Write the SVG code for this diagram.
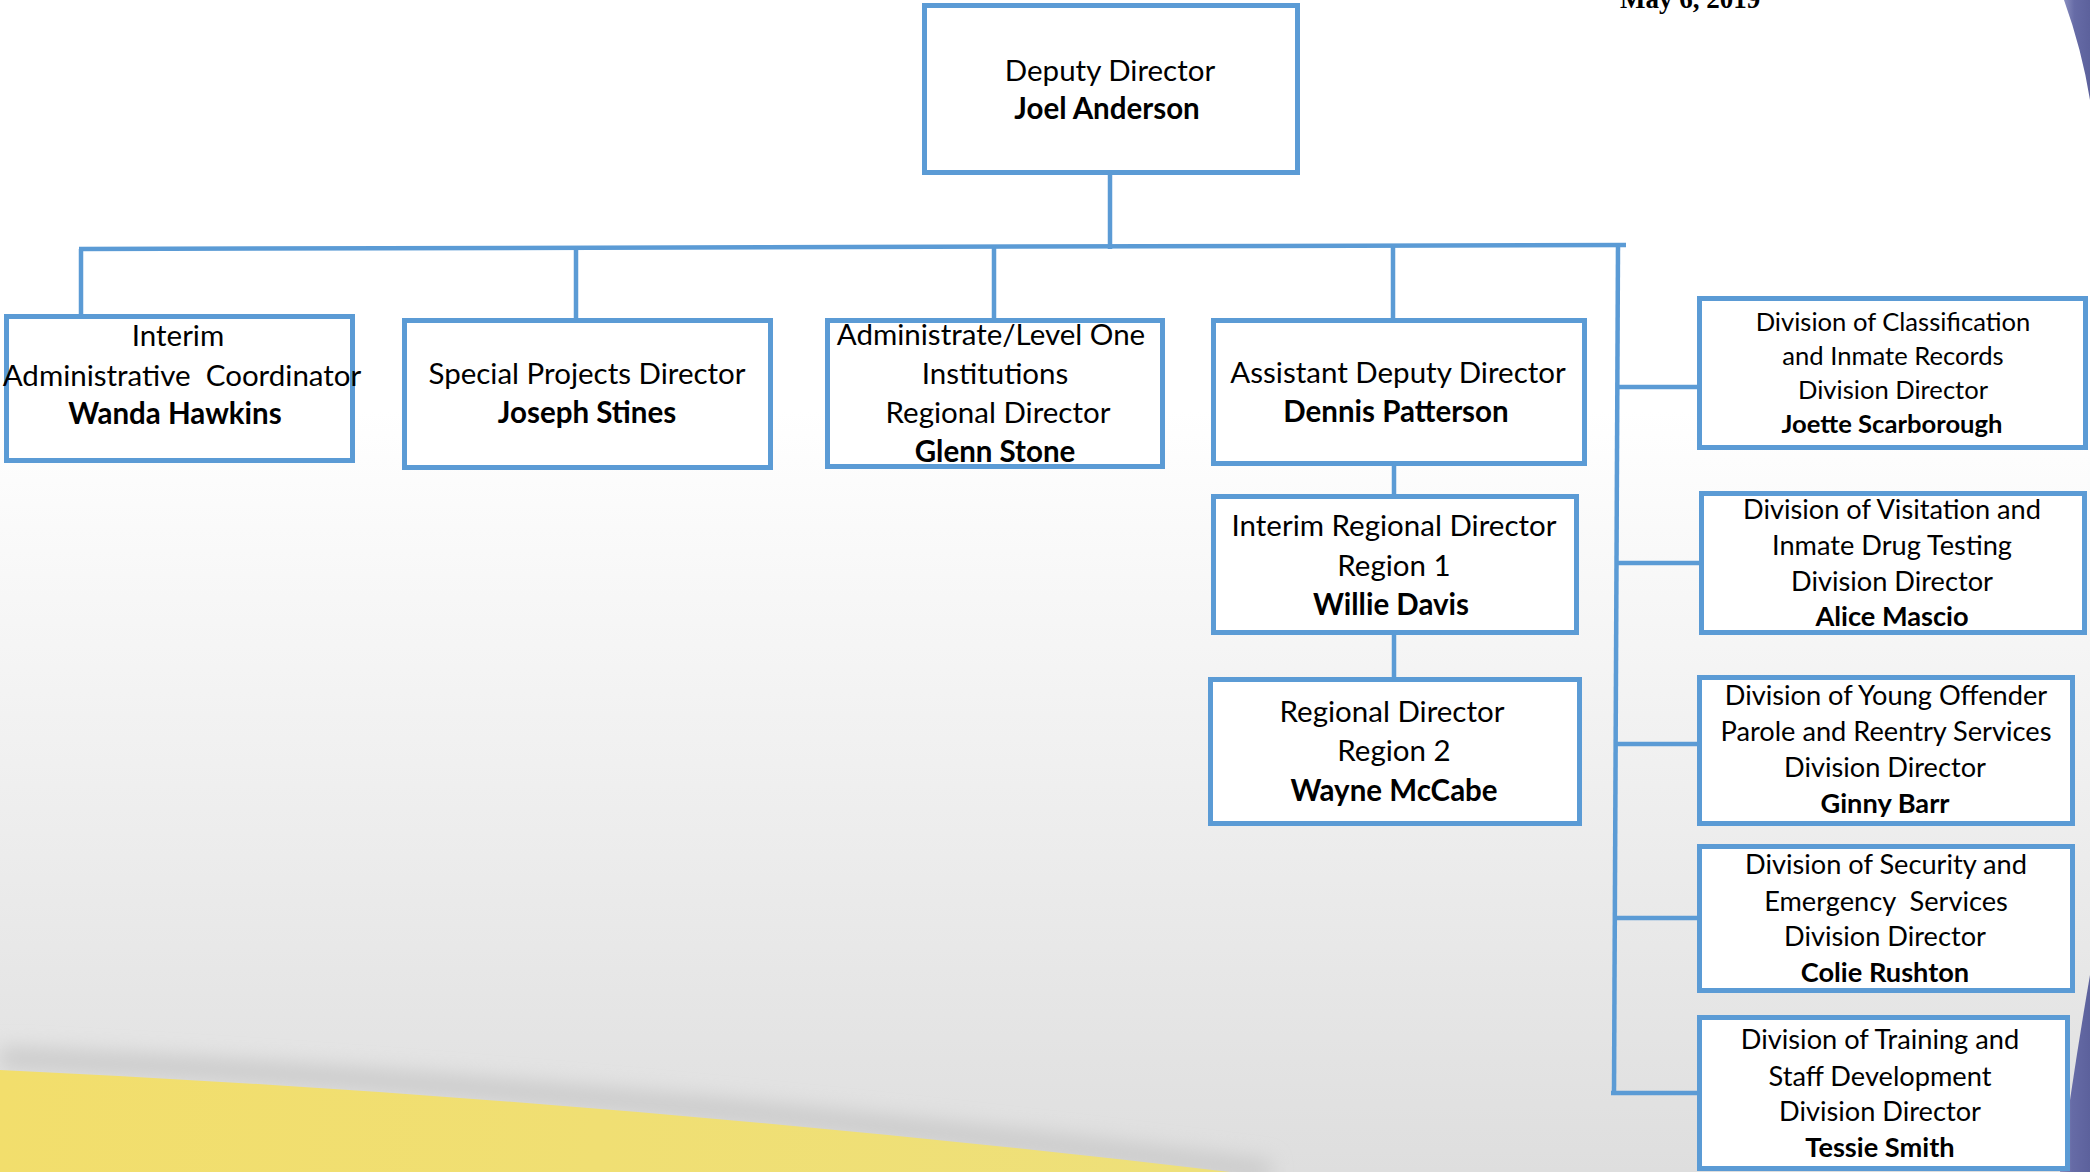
<svg xmlns="http://www.w3.org/2000/svg" width="2090" height="1172" viewBox="0 0 2090 1172">
<defs>
<linearGradient id="bg" x1="0" y1="0" x2="0" y2="1172" gradientUnits="userSpaceOnUse">
<stop offset="0" stop-color="#ffffff"/>
<stop offset="0.35" stop-color="#ffffff"/>
<stop offset="0.75" stop-color="#ebebeb"/>
<stop offset="1" stop-color="#dedede"/>
</linearGradient>
<linearGradient id="yel" x1="0" y1="1080" x2="1200" y2="1172" gradientUnits="userSpaceOnUse">
<stop offset="0" stop-color="#f2de6c"/>
<stop offset="1" stop-color="#eee07a"/>
</linearGradient>
<linearGradient id="pur" x1="0" y1="0" x2="1" y2="0">
<stop offset="0" stop-color="#8a8fc0"/>
<stop offset="0.4" stop-color="#666ba6"/>
<stop offset="1" stop-color="#5c619c"/>
</linearGradient>
<filter id="blur" x="-20%" y="-50%" width="140%" height="200%"><feGaussianBlur stdDeviation="10"/></filter>
<filter id="blur2" x="-20%" y="-20%" width="140%" height="140%"><feGaussianBlur stdDeviation="6"/></filter>
</defs>
<style>
.box{fill:#ffffff;stroke:#5b9bd5;stroke-width:5}
.con{fill:none;stroke:#5b9bd5;stroke-width:4.5}
text{font-family:Lato,"Open Sans","Liberation Sans",sans-serif;fill:#000000;text-anchor:middle}
.m{font-size:29.5px}
.r{font-size:27.2px}
.s{font-size:25.6px}
.b{font-weight:bold}
.date{font-family:"Liberation Serif","Times New Roman",serif;font-size:27px;font-weight:bold;text-anchor:start}
</style>
<rect x="0" y="0" width="2090" height="1172" fill="url(#bg)"/>
<path d="M0,1058 Q600,1086 1270,1172" fill="none" stroke="#cbcbcb" stroke-width="22" filter="url(#blur)"/>
<path d="M0,1070 Q600,1098 1230,1172 L0,1172 Z" fill="url(#yel)"/>
<path d="M2056,0 Q2080,50 2090,118 L2090,0 Z" fill="#ffffff" filter="url(#blur2)"/>
<path d="M2064,0 Q2082,50 2090,100 L2090,0 Z" fill="url(#pur)"/>
<path d="M2090,975 Q2072,1080 2060,1172 L2090,1172 Z" fill="url(#pur)"/>
<text class="date" x="1620" y="8">May 6, 2019</text>

<g id="connectors">
<path class="con" d="M1110,175 V249"/>
<path class="con" d="M79,249 L1626,245"/>
<path class="con" d="M81,249 V315"/>
<path class="con" d="M576,249 V319"/>
<path class="con" d="M994,248 V319"/>
<path class="con" d="M1393,246 V319"/>
<path class="con" d="M1394,465 V495"/>
<path class="con" d="M1394,634 V678"/>
<path class="con" d="M1618,245 L1614,1093"/>
<path class="con" d="M1617,387 H1698"/>
<path class="con" d="M1616,563 H1700"/>
<path class="con" d="M1615,744 H1698"/>
<path class="con" d="M1615,918 H1698"/>
<path class="con" d="M1611,1093 H1698"/>
</g>

<g id="deputy-director">
<rect class="box" x="924.5" y="5.5" width="373" height="167"/>
<text class="m" x="1110" y="81">Deputy Director</text>
<text class="m b" x="1107" y="119">Joel Anderson</text>
</g>
<g id="interim-admin-coordinator">
<rect class="box" x="6.5" y="316.5" width="346" height="144"/>
<text class="m" x="178" y="346">Interim</text>
<text class="m" x="182" y="386" xml:space="preserve">Administrative  Coordinator</text>
<text class="m b" x="175" y="424">Wanda Hawkins</text>
</g>
<g id="special-projects-director">
<rect class="box" x="404.5" y="320.5" width="366" height="147"/>
<text class="m" x="587" y="384">Special Projects Director</text>
<text class="m b" x="587" y="423">Joseph Stines</text>
</g>
<g id="administrate-level-one">
<rect class="box" x="827.5" y="320.5" width="335" height="146"/>
<text class="m" x="991" y="345">Administrate/Level One</text>
<text class="m" x="995" y="384">Institutions</text>
<text class="m" x="998" y="423">Regional Director</text>
<text class="m b" x="995" y="462">Glenn Stone</text>
</g>
<g id="assistant-deputy-director">
<rect class="box" x="1213.5" y="320.5" width="371" height="143"/>
<text class="m" x="1398" y="383">Assistant Deputy Director</text>
<text class="m b" x="1396" y="422">Dennis Patterson</text>
</g>
<g id="interim-regional-director">
<rect class="box" x="1213.5" y="496.5" width="363" height="136"/>
<text class="m" x="1394" y="536">Interim Regional Director</text>
<text class="m" x="1394" y="576">Region 1</text>
<text class="m b" x="1391" y="615">Willie Davis</text>
</g>
<g id="regional-director-2">
<rect class="box" x="1210.5" y="679.5" width="369" height="144"/>
<text class="m" x="1392" y="722">Regional Director</text>
<text class="m" x="1394" y="761">Region 2</text>
<text class="m b" x="1394" y="801">Wayne McCabe</text>
</g>
<g id="classification">
<rect class="box" x="1699.5" y="298.5" width="386" height="149"/>
<text class="s" x="1893" y="331">Division of Classification</text>
<text class="s" x="1893" y="365">and Inmate Records</text>
<text class="s" x="1893" y="399">Division Director</text>
<text class="s b" x="1892" y="433">Joette Scarborough</text>
</g>
<g id="visitation">
<rect class="box" x="1701.5" y="493.5" width="383" height="139"/>
<text class="r" x="1892" y="519">Division of Visitation and</text>
<text class="r" x="1892" y="555">Inmate Drug Testing</text>
<text class="r" x="1892" y="591">Division Director</text>
<text class="r b" x="1892" y="626">Alice Mascio</text>
</g>
<g id="young-offender">
<rect class="box" x="1699.5" y="677.5" width="373" height="146"/>
<text class="r" x="1886" y="705">Division of Young Offender</text>
<text class="r" x="1886" y="741">Parole and Reentry Services</text>
<text class="r" x="1885" y="777">Division Director</text>
<text class="r b" x="1885" y="813">Ginny Barr</text>
</g>
<g id="security">
<rect class="box" x="1699.5" y="846.5" width="373" height="144"/>
<text class="r" x="1886" y="874">Division of Security and</text>
<text class="r" x="1886" y="911" xml:space="preserve">Emergency  Services</text>
<text class="r" x="1885" y="946">Division Director</text>
<text class="r b" x="1885" y="982">Colie Rushton</text>
</g>
<g id="training">
<rect class="box" x="1699.5" y="1017.5" width="368" height="151"/>
<text class="r" x="1880" y="1049">Division of Training and</text>
<text class="r" x="1880" y="1086">Staff Development</text>
<text class="r" x="1880" y="1121">Division Director</text>
<text class="r b" x="1880" y="1157">Tessie Smith</text>
</g>
</svg>
